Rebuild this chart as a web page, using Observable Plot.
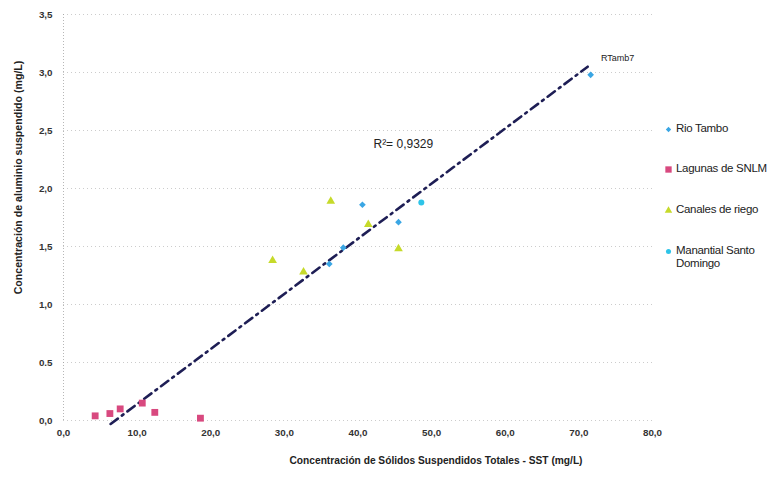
<!DOCTYPE html>
<html>
<head>
<meta charset="utf-8">
<script src="https://cdn.jsdelivr.net/npm/d3@7"></script>
<script src="https://cdn.jsdelivr.net/npm/@observablehq/plot@0.6"></script>
<style>
  html, body { margin: 0; padding: 0; background: #fff; }
  #wrap { position: relative; width: 776px; height: 478px; font-family: "Liberation Sans", Arial, sans-serif; }
  #legend { position: absolute; left: 664px; top: 0; font-size: 11.5px; color: #222; letter-spacing: -0.3px; }
  .item { position: absolute; display: flex; align-items: flex-start; white-space: nowrap; line-height: 13px; }
  .item svg { margin-right: 3px; margin-top: 3px; }
</style>
</head>
<body>
<div id="wrap"></div>
<script>
// ---- data ----
const categories = ["Rio Tambo", "Lagunas de SNLM", "Canales de riego", "Manantial Santo Domingo"];
const colors = ["#3aa6e4", "#d8497f", "#c6da2a", "#2ec4e8"];
const symbols = ["diamond2", "square", "triangle", "circle"];

const rioTamboX = [40.6, 45.5, 38.0, 36.1, 71.6];
const rioTamboY = [1.86, 1.71, 1.49, 1.35, 2.98];
const lagunasX = [4.3, 6.3, 7.7, 10.7, 12.4, 18.6];
const lagunasY = [0.04, 0.06, 0.10, 0.15, 0.07, 0.02];
const canalesX = [36.3, 41.4, 45.5, 28.4, 32.6];
const canalesY = [1.89, 1.69, 1.48, 1.38, 1.28];
const manantialX = [48.6];
const manantialY = [1.88];

const trendX = [6.4, 71.2];
const trendY = [-0.03, 3.05];

const xTicks = [0, 10, 20, 30, 40, 50, 60, 70, 80];
const xTickLabels = ["0,0", "10,0", "20,0", "30,0", "40,0", "50,0", "60,0", "70,0", "80,0"];
const yTicks = [0, 0.5, 1.0, 1.5, 2.0, 2.5, 3.0, 3.5];
const yTickLabels = ["0,0", "0.5", "1,0", "1,5", "2,0", "2,5", "3,0", "3,5"];

const annoX = [42.1, 73.0];
const annoY = [2.38, 3.12];
const annoText = ["R\u00b2= 0,9329", "RTamb7"];
const annoSize = [12, 9];

const xLabel = "Concentración de Sólidos Suspendidos Totales - SST (mg/L)";
const yLabel = "Concentración de aluminio suspendido (mg/L)";

// ---- build table ----
const seriesX = [rioTamboX, lagunasX, canalesX, manantialX];
const seriesY = [rioTamboY, lagunasY, canalesY, manantialY];
const points = [];
seriesX.forEach((xs, s) => xs.forEach((x, i) => points.push({series: categories[s], x, y: seriesY[s][i]})));
const trend = trendX.map((x, i) => ({x, y: trendY[i]}));
const radius = {"Rio Tambo": 2.6, "Lagunas de SNLM": 4.3, "Canales de riego": 3.0, "Manantial Santo Domingo": 2.6};

const font = "Liberation Sans, Arial, sans-serif";

const chart = Plot.plot({
  width: 776,
  height: 478,
  marginLeft: 63,
  marginRight: 124,
  marginTop: 14,
  marginBottom: 58,
  style: {fontFamily: font, background: "#fff"},
  x: {domain: [0, 80]},
  y: {domain: [0, 3.5]},
  color: {domain: categories, range: colors},
  symbol: {domain: categories, range: symbols},
  marks: [
    Plot.gridY(yTicks, {stroke: "#999", strokeOpacity: 0.5, strokeDasharray: "1,3"}),
    Plot.ruleX([0], {stroke: "#999", strokeOpacity: 0.7, strokeDasharray: "1,2"}),
    Plot.axisX(xTicks, {
      tickSize: 0, tickPadding: 9, fontSize: 9.8, fontWeight: "bold", fill: "#333",
      tickFormat: (d) => xTickLabels[xTicks.indexOf(d)], label: null
    }),
    Plot.axisY(yTicks, {
      tickSize: 0, tickPadding: 11, fontSize: 9.8, fontWeight: "bold", fill: "#333",
      tickFormat: (d) => yTickLabels[yTicks.indexOf(d)], label: null
    }),
    Plot.text([xLabel], {frameAnchor: "bottom", dx: 78, dy: 43, text: (d) => d, fontSize: 10.2,
      fontWeight: "bold", fill: "#222", clip: false}),
    Plot.text([yLabel], {frameAnchor: "left", textAnchor: "middle", dx: -45, dy: -40, rotate: -90, text: (d) => d,
      fontSize: 10.6, fontWeight: "bold", fill: "#222", clip: false}),
    Plot.line(trend, {x: "x", y: "y", stroke: "#1e1e55", strokeWidth: 2.6, strokeDasharray: "9,5,2,5", clip: false}),
    Plot.dot(points, {x: "x", y: "y", fill: "series", symbol: "series", r: (d) => radius[d.series], stroke: "none"}),
    Plot.text(annoText, {x: (d, i) => annoX[i], y: (d, i) => annoY[i], text: (d) => d, textAnchor: "start",
      fontSize: (d, i) => annoSize[i], fill: "#222", clip: false})
  ]
});
document.getElementById("wrap").appendChild(chart);

// ---- legend ----
const legendTop = [122, 162, 203, 244];
const legend = document.createElement("div");
legend.id = "legend";
categories.forEach((c, i) => {
  const item = document.createElement("div");
  item.className = "item";
  item.style.top = legendTop[i] + "px";
  const sym = d3.symbol().type([d3.symbolDiamond2, d3.symbolSquare, d3.symbolTriangle, d3.symbolCircle][i])
    .size([18, 40, 24, 20][i]);
  const svg = d3.create("svg").attr("width", 9).attr("height", 9);
  svg.append("path").attr("d", sym()).attr("transform", "translate(4.5,4.5)").attr("fill", colors[i]);
  item.appendChild(svg.node());
  const span = document.createElement("span");
  span.innerHTML = c === "Manantial Santo Domingo" ? "Manantial Santo<br>Domingo" : c;
  item.appendChild(span);
  legend.appendChild(item);
});
document.getElementById("wrap").appendChild(legend);
</script>
</body>
</html>
